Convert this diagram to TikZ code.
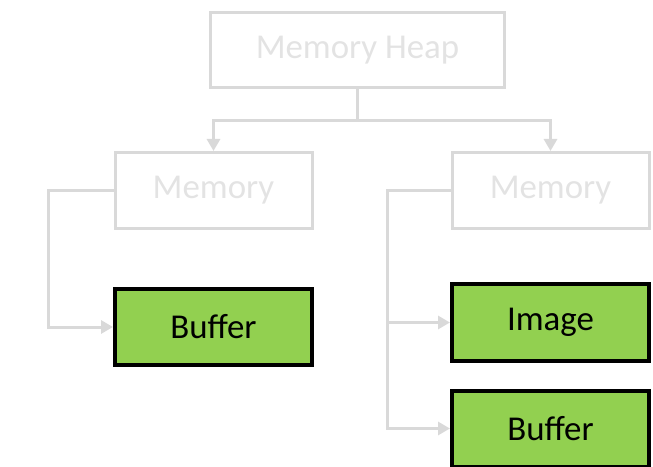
\documentclass[tikz,border=0pt]{standalone}
\usepackage{fontspec}
\setmainfont{Carlito}
\usetikzlibrary{arrows.meta}
\definecolor{lineGray}{HTML}{D9D9D9}
\definecolor{textGray}{HTML}{E3E3E3}
\definecolor{leafGreen}{HTML}{92D050}
\begin{document}
\begin{tikzpicture}[x=1bp,y=-1bp,
  box/.style={inner sep=0pt, minimum width=197bp, minimum height=76bp,
    font=\fontsize{35}{40}\selectfont},
  faint/.style={box, draw=lineGray, line width=3bp, text=textGray},
  leaf/.style={box, draw=black, fill=leafGreen, line width=4bp, text=black},
  link/.style={draw=lineGray, line width=3bp},
  arrowlink/.style={link, -{Triangle[length=12bp,width=13bp]}}
]
\useasboundingbox (0,0) rectangle (653,467);

% hierarchy boxes
\node[faint, minimum width=294bp, minimum height=75bp] (heap) at (357.5,50) {Memory Heap};
\node[faint] (memL) at (213.5,190.5) {Memory};
\node[faint] (memR) at (550.5,190.5) {Memory};
\node[leaf] (bufL) at (213.5,327) {Buffer};
\node[leaf] (img) at (550.5,322.5) {Image};
\node[leaf] (bufR) at (550.5,428.5) {Buffer};

% heap to memories
\draw[link] (heap.south) -- ++(0,32) coordinate (split);
\draw[arrowlink] (split) -| (memL.north);
\draw[arrowlink] (split) -| (memR.north);

% memories to resources
\draw[arrowlink] (memL.west) -- ++(-65,0) |- (bufL.west);
\draw[arrowlink] (memR.west) -- ++(-63,0) |- (img.west);
\draw[arrowlink] (memR.west) -- ++(-63,0) |- (bufR.west);
\end{tikzpicture}
\end{document}
